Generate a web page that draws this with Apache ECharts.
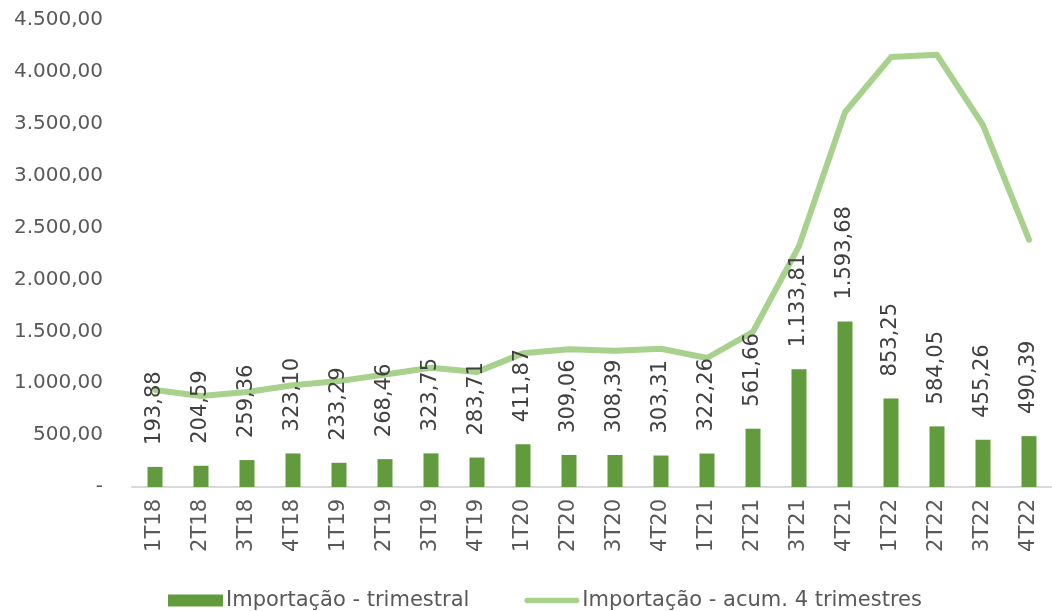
<!DOCTYPE html>
<html>
<head>
<meta charset="utf-8">
<script src="https://cdn.jsdelivr.net/npm/echarts@6/dist/echarts.min.js"></script>
<style>
  html, body { margin: 0; padding: 0; background: #fff; }
  #main { width: 1052px; height: 611px; }
</style>
</head>
<body>
<div id="main"></div>
<script>
// trimestres
const quarters = [
  "1T18", "2T18", "3T18", "4T18",
  "1T19", "2T19", "3T19", "4T19",
  "1T20", "2T20", "3T20", "4T20",
  "1T21", "2T21", "3T21", "4T21",
  "1T22", "2T22", "3T22", "4T22",
];

// Importação - trimestral
const importQuarterly = [
  193.88, 204.59, 259.36, 323.10,
  233.29, 268.46, 323.75, 283.71,
  411.87, 309.06, 308.39, 303.31,
  322.26, 561.66, 1133.81, 1593.68,
  853.25, 584.05, 455.26, 490.39,
];

// Importação - acum. 4 trimestres
const importRolling = [
  935, 877, 915, 980.93,
  1020.34, 1084.21, 1148.60, 1109.21,
  1287.79, 1328.39, 1313.03, 1332.63,
  1243.02, 1495.62, 2321.04, 3611.41,
  4142.40, 4164.79, 3486.24, 2382.95,
];

// formato pt-BR: 1.234,56
function fmtBR(v) {
  const parts = v.toFixed(2).split(".");
  const intPart = parts[0].replace(/\B(?=(\d{3})+(?!\d))/g, ".");
  return intPart + "," + parts[1];
}

const FONT = "DejaVu Sans";
// ícone da legenda da linha: traço grosso com pontas arredondadas
const lineIcon = "path://M0,0L0,0Z M0,12L0,12Z M3,3L57,3A3,3 0 0 1 57,9L3,9A3,3 0 0 1 3,3Z";

const chartDom = document.getElementById("main");
const myChart = echarts.init(chartDom);
const option = {
  animation: false,
  textStyle: { fontFamily: FONT },
  grid: {
    left: 132,
    top: 20,
    width: 932,
    height: 467,
  },
  legend: {
    left: 163,
    top: 585,
    itemGap: 55,
    itemWidth: 55,
    itemHeight: 12,
    textStyle: { fontFamily: FONT, fontSize: 21, color: "#595959", padding: [0, 0, 0, -2] },
    data: [
      { name: "Importação - trimestral", icon: "rect" },
      { name: "Importação - acum. 4 trimestres", icon: lineIcon },
    ],
  },
  xAxis: {
    type: "category",
    data: quarters,
    axisLine: { lineStyle: { color: "#d9d9d9", width: 2 } },
    axisTick: { show: false },
    axisLabel: {
      rotate: 90,
      margin: 12,
      fontSize: 21,
      color: "#595959",
      fontFamily: FONT,
    },
  },
  yAxis: {
    type: "value",
    min: 0,
    max: 4500,
    interval: 500,
    splitLine: { show: false },
    axisLine: { show: false },
    axisLabel: {
      margin: 29,
      fontSize: 20,
      color: "#595959",
      fontFamily: FONT,
      formatter: (v) => (v === 0 ? "-" : fmtBR(v)),
    },
  },
  series: [
    {
      name: "Importação - trimestral",
      type: "bar",
      data: importQuarterly,
      barWidth: 15,
      itemStyle: { color: "#629b3e" },
      label: {
        show: true,
        position: "top",
        rotate: 90,
        align: "left",
        verticalAlign: "middle",
        distance: 22,
        fontSize: 21,
        color: "#404040",
        fontFamily: FONT,
        formatter: (p) => fmtBR(p.value),
      },
    },
    {
      name: "Importação - acum. 4 trimestres",
      type: "line",
      data: importRolling,
      symbol: "none",
      lineStyle: { color: "#a9d18e", width: 6, cap: "round", join: "round" },
      itemStyle: { color: "#a9d18e" },
      z: 1,
    },
  ],
};

myChart.setOption(option);
</script>
</body>
</html>
